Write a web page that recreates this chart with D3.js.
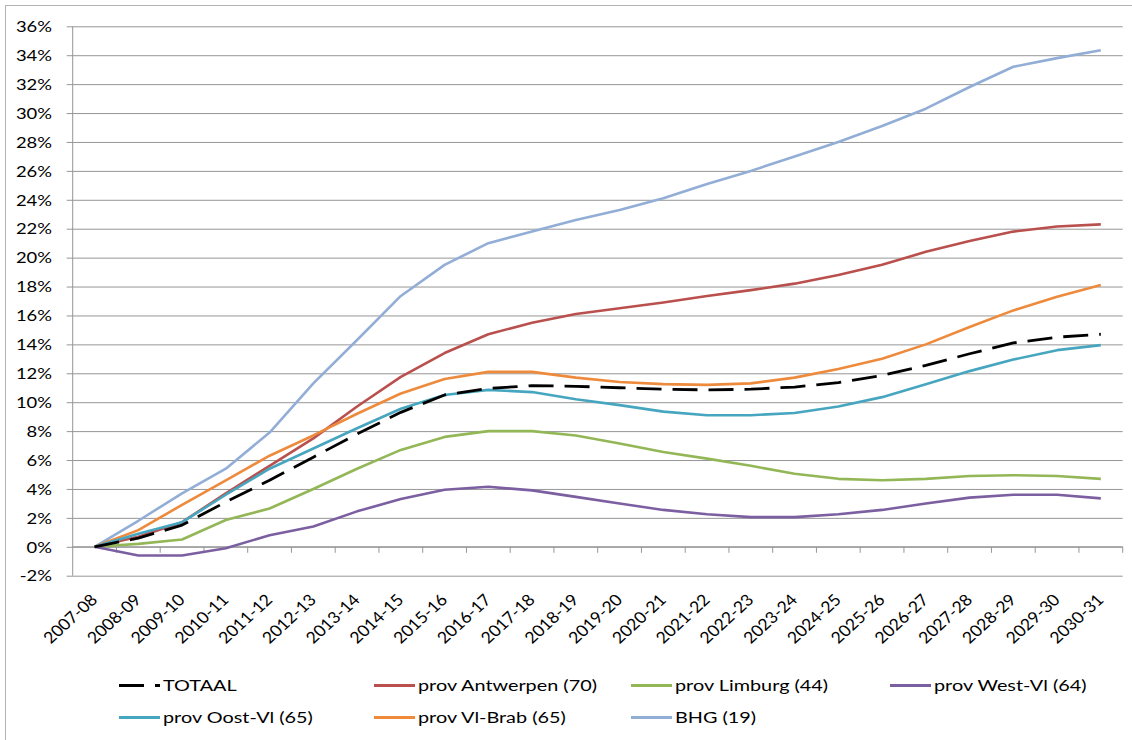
<!DOCTYPE html>
<html>
<head>
<meta charset="utf-8">
<script src="https://cdnjs.cloudflare.com/ajax/libs/d3/7.8.5/d3.min.js"></script>
<style>
  html, body { margin: 0; padding: 0; background: #fff; }
  svg { display: block; }
  text { font-family: Lato, "Open Sans", sans-serif; fill: #000; }
</style>
</head>
<body>
<svg id="chart" width="1132" height="740"></svg>
<script>
// ---- data (percent) ----
const categories = ["2007-08","2008-09","2009-10","2010-11","2011-12","2012-13","2013-14","2014-15","2015-16","2016-17","2017-18","2018-19","2019-20","2020-21","2021-22","2022-23","2023-24","2024-25","2025-26","2026-27","2027-28","2028-29","2029-30","2030-31"];
const totaal    = [0, 0.6, 1.5, 3.1, 4.6, 6.2, 7.8, 9.3, 10.5, 10.95, 11.15, 11.1, 11.0, 10.9, 10.85, 10.9, 11.05, 11.35, 11.85, 12.55, 13.35, 14.1, 14.5, 14.7];
const antwerpen = [0, 0.7, 1.7, 3.7, 5.6, 7.5, 9.7, 11.75, 13.4, 14.7, 15.5, 16.1, 16.5, 16.9, 17.35, 17.75, 18.2, 18.8, 19.5, 20.4, 21.15, 21.8, 22.15, 22.3];
const limburg   = [0, 0.2, 0.5, 1.85, 2.65, 4.0, 5.4, 6.7, 7.6, 8.0, 8.0, 7.7, 7.15, 6.55, 6.1, 5.6, 5.05, 4.7, 4.6, 4.7, 4.9, 4.95, 4.9, 4.7];
const westVl    = [0, -0.6, -0.6, -0.1, 0.8, 1.4, 2.45, 3.3, 3.95, 4.15, 3.9, 3.45, 3.0, 2.55, 2.25, 2.05, 2.05, 2.25, 2.55, 3.0, 3.4, 3.6, 3.6, 3.35];
const oostVl    = [0, 0.9, 1.7, 3.6, 5.4, 6.8, 8.2, 9.55, 10.5, 10.85, 10.7, 10.2, 9.8, 9.35, 9.1, 9.1, 9.25, 9.7, 10.35, 11.25, 12.15, 12.95, 13.6, 13.95];
const vlBrab    = [0, 1.15, 2.9, 4.6, 6.3, 7.7, 9.2, 10.6, 11.6, 12.1, 12.1, 11.7, 11.4, 11.25, 11.2, 11.3, 11.7, 12.3, 13.0, 14.0, 15.2, 16.35, 17.3, 18.1];
const bhg       = [0, 1.8, 3.7, 5.4, 7.9, 11.3, 14.3, 17.35, 19.5, 21.0, 21.8, 22.6, 23.3, 24.1, 25.1, 26.0, 27.0, 28.0, 29.1, 30.3, 31.8, 33.2, 33.8, 34.35];
const yTicks    = [-2, 0, 2, 4, 6, 8, 10, 12, 14, 16, 18, 20, 22, 24, 26, 28, 30, 32, 34, 36];

const seriesNames  = ["TOTAAL", "prov Antwerpen (70)", "prov Limburg (44)", "prov West-Vl (64)", "prov Oost-Vl (65)", "prov Vl-Brab (65)", "BHG (19)"];
const seriesValues = [totaal, antwerpen, limburg, westVl, oostVl, vlBrab, bhg];
const seriesColors = ["#000000", "#B9504D", "#93B757", "#7B5FA0", "#47A6BF", "#EE8A3C", "#92AED6"];
const drawOrder    = [6, 1, 5, 2, 3, 4, 0]; // back to front

const series = seriesNames.map((n, k) => ({ name: n, values: seriesValues[k], color: seriesColors[k], dashed: k === 0 }));

// ---- layout ----
const svg = d3.select("#chart");
const L = 72.7, R = 1122.7, T = 26.3, B = 575.7;
const TX = 1.15; // horizontal text stretch

const x = d3.scalePoint().domain(categories).range([L, R]).padding(0.5);
const y = d3.scaleLinear().domain([-2, 36]).range([B, T]);

// outer border
svg.append("rect").attr("x", 5.5).attr("y", 5.5).attr("width", 1300).attr("height", 1000)
  .attr("fill", "none").attr("stroke", "#b3b3b3").attr("stroke-width", 1);

// gridlines + y ticks
const yAxis = d3.axisLeft(y).tickValues(yTicks).tickSize(-(R - L)).tickSizeOuter(0).tickFormat("");
const gy = svg.append("g").attr("transform", `translate(${L},0)`).call(yAxis);
gy.select(".domain").remove();
gy.selectAll(".tick line").attr("stroke", "#969696").attr("stroke-width", 1).attr("x1", -6);

// y axis line
svg.append("line").attr("x1", L).attr("x2", L).attr("y1", T).attr("y2", B)
  .attr("stroke", "#969696").attr("stroke-width", 1);

// y labels
svg.append("g").selectAll("text").data(yTicks).join("text")
  .attr("transform", d => `translate(52,${y(d)}) scale(${TX},1)`)
  .attr("text-anchor", "end").attr("dy", "0.36em")
  .style("font-size", "16px")
  .text(d => d + "%");

// x axis at 0 with ticks between categories
const band = x.step();
const xTickPos = d3.range(categories.length + 1).map(i => L + i * band);
svg.append("line").attr("x1", L).attr("x2", R).attr("y1", y(0)).attr("y2", y(0))
  .attr("stroke", "#969696").attr("stroke-width", 1);
svg.append("g").selectAll("line").data(xTickPos.slice(1)).join("line")
  .attr("x1", d => d).attr("x2", d => d).attr("y1", y(0)).attr("y2", y(0) + 6)
  .attr("stroke", "#969696").attr("stroke-width", 1);

// x labels (rotated)
svg.append("g").selectAll("text").data(categories).join("text")
  .attr("transform", d => `translate(${x(d) + 4},601) scale(1.1,1) rotate(-45)`)
  .attr("text-anchor", "end")
  .style("font-size", "16px")
  .text(d => d);

// lines
const line = d3.line().x((d, i) => x(categories[i])).y(d => y(d)).curve(d3.curveLinear);
const gl = svg.append("g");
drawOrder.forEach(k => {
  const s = series[k];
  gl.append("path").datum(s.values).attr("d", line)
    .attr("fill", "none").attr("stroke", s.color)
    .attr("stroke-width", s.dashed ? 2.8 : 2.6)
    .attr("stroke-linejoin", "round")
    .attr("stroke-dasharray", s.dashed ? "25,11" : null);
});

// legend
const legendPos = [[119, 685.5], [374, 685.5], [631, 685.5], [890, 685.5], [119, 717.5], [374, 717.5], [631, 717.5]];
const lg = svg.append("g");
series.forEach((s, k) => {
  const [lx, ly] = legendPos[k];
  lg.append("line").attr("x1", lx).attr("x2", lx + 41).attr("y1", ly).attr("y2", ly)
    .attr("stroke", s.color).attr("stroke-width", 2.8)
    .attr("stroke-dasharray", s.dashed ? "25,11" : null);
  lg.append("text")
    .attr("transform", `translate(${lx + 44},${ly}) scale(1.24,1)`)
    .attr("dy", "0.36em").style("font-size", "16px")
    .text(s.name);
});
</script>
</body>
</html>
